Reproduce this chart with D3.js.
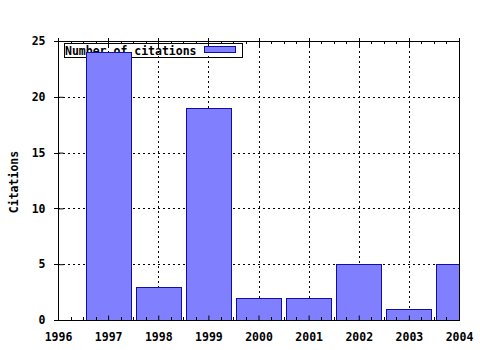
<!DOCTYPE html>
<html><head><meta charset="utf-8">
<script src="https://cdn.jsdelivr.net/npm/d3@7"></script>
<style>body{margin:0;background:#fff}svg{display:block}text{font-family:"DejaVu Sans Mono",monospace;font-weight:bold;font-size:11.5px}</style>
</head><body><svg id="c" width="480" height="350"></svg>
<script>
const years = [1997, 1998, 1999, 2000, 2001, 2002, 2003, 2004];
const citations = [24, 3, 19, 2, 2, 5, 1, 5];
const xTickValues = [1996, 1997, 1998, 1999, 2000, 2001, 2002, 2003, 2004];
const yTickValues = [0, 5, 10, 15, 20, 25];
const seriesName = "Number of citations";
const yTitle = "Citations";

const svg = d3.select("#c");
const L = 58, R = 459, T = 41, B = 320;
const x = d3.scaleLinear().domain([1996, 2004]).range([L, R]);
const y = d3.scaleLinear().domain([0, 25]).range([B, T]);
const barW = 0.9;
const FS = "11.5px";

// grid
const grid = svg.append("g").attr("stroke", "#000").attr("stroke-dasharray", "2,3").attr("stroke-width", 1);
xTickValues.slice(1, -1).forEach(v => grid.append("line").attr("x1", Math.round(x(v)) + .5).attr("x2", Math.round(x(v)) + .5).attr("y1", T).attr("y2", B));
yTickValues.slice(1, -1).forEach(v => grid.append("line").attr("x1", L).attr("x2", R).attr("y1", Math.round(y(v)) + .5).attr("y2", Math.round(y(v)) + .5));

// legend (drawn under bars)
const lg = svg.append("g");
lg.append("rect").attr("x", 64.5).attr("y", 43.5).attr("width", 178).attr("height", 14).attr("fill", "none").attr("stroke", "#000");
lg.append("text").attr("x", 65).attr("y", 55).text(seriesName);
lg.append("rect").attr("x", 204.5).attr("y", 46.5).attr("width", 31).attr("height", 6).attr("fill", "#8080ff").attr("stroke", "#1010a0");

// bars
svg.append("clipPath").attr("id", "pc").append("rect").attr("x", L).attr("y", T).attr("width", R - L).attr("height", B - T);
svg.append("g").attr("clip-path", "url(#pc)").selectAll("rect").data(years.map((d, i) => ({yr: d, v: citations[i]}))).join("rect")
  .attr("x", d => Math.round(x(d.yr - barW / 2)) + .5)
  .attr("width", d => Math.round(x(d.yr + barW / 2)) - Math.round(x(d.yr - barW / 2)))
  .attr("y", d => Math.round(y(d.v)) + .5)
  .attr("height", d => Math.round(y(0)) - Math.round(y(d.v)))
  .attr("fill", "#8080ff").attr("stroke", "#1010a0").attr("stroke-width", 1);

// frame
svg.append("rect").attr("x", L + .5).attr("y", T + .5).attr("width", R - L).attr("height", B - T).attr("fill", "none").attr("stroke", "#000");

// axes
const minor = d3.range(1996, 2004.001, 0.25);
const bottom = svg.append("g").attr("transform", `translate(0,${B + .5})`)
  .call(d3.axisBottom(x).tickValues(xTickValues).tickFormat(d3.format("d")).tickSizeInner(-5).tickSizeOuter(0).tickPadding(12));
bottom.select(".domain").remove();
bottom.selectAll("text").attr("fill", "#000").style("font-size", FS).style("font-family", "DejaVu Sans Mono").style("font-weight", "bold");
bottom.selectAll("line").attr("stroke", "#000");
const minorG = svg.append("g").attr("stroke", "#000");
minor.forEach(v => {
  if (Math.abs(v - Math.round(v)) < 1e-6) return;
  const px = Math.round(x(v)) + .5;
  minorG.append("line").attr("x1", px).attr("x2", px).attr("y1", B).attr("y2", B - 3);
  minorG.append("line").attr("x1", px).attr("x2", px).attr("y1", T).attr("y2", T + 3);
});
xTickValues.forEach(v => {
  const px = Math.round(x(v)) + .5;
  minorG.append("line").attr("x1", px).attr("x2", px).attr("y1", T - 3).attr("y2", T + 5);
});
const left = svg.append("g").attr("transform", `translate(${L + .5},0)`)
  .call(d3.axisLeft(y).tickValues(yTickValues).tickSizeInner(-5).tickSizeOuter(0).tickPadding(13));
left.select(".domain").remove();
left.selectAll("text").attr("fill", "#000").style("font-size", FS).style("font-family", "DejaVu Sans Mono").style("font-weight", "bold");
left.selectAll("line").attr("stroke", "#000");
yTickValues.forEach(v => {
  const py = Math.round(y(v)) + .5;
  minorG.append("line").attr("x1", L - 4).attr("x2", L).attr("y1", py).attr("y2", py);
});

svg.append("text").attr("transform", "translate(18,182) rotate(-90)").attr("text-anchor", "middle").text(yTitle);
</script></body></html>
